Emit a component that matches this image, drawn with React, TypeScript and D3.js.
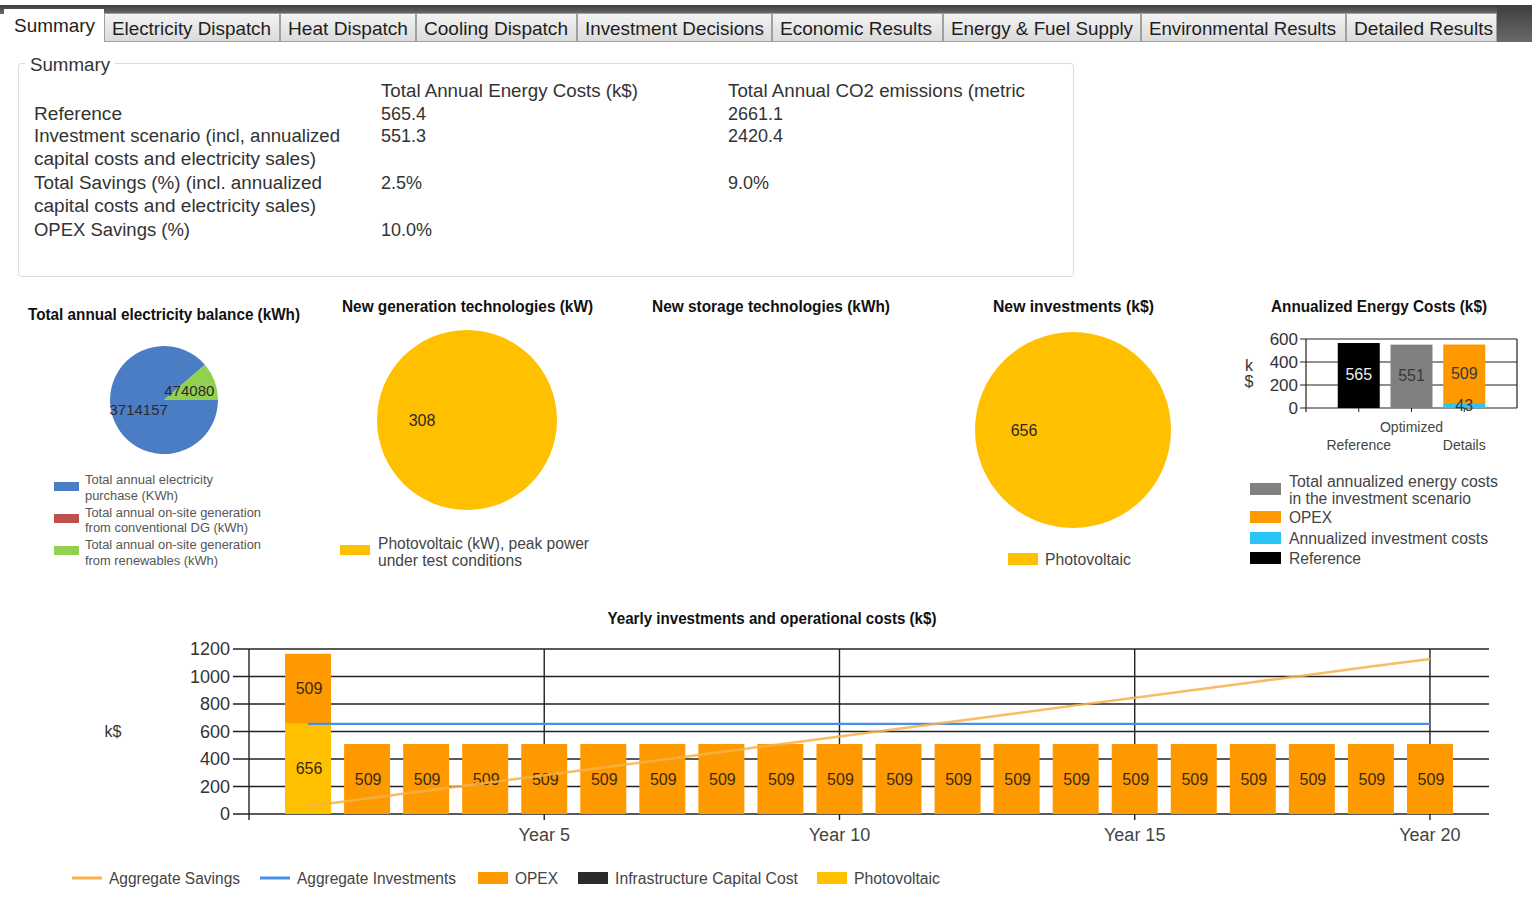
import React from "react";
import * as d3 from "d3";

// ---------- data ----------
const tabs = ["Summary", "Electricity Dispatch", "Heat Dispatch", "Cooling Dispatch", "Investment Decisions", "Economic Results", "Energy & Fuel Supply", "Environmental Results", "Detailed Results"];
const tabEdges = [104, 280, 416, 577, 772, 943, 1141, 1346, 1497];
const tabTextWidths = [81, 159, 120, 144, 179, 152, 182, 187, 139];

const summaryHeaders = ["Total Annual Energy Costs (k$)", "Total Annual CO2 emissions (metric"];
const summaryLabels = [["Reference"], ["Investment scenario (incl, annualized", "capital costs and electricity sales)"], ["Total Savings (%) (incl. annualized", "capital costs and electricity sales)"], ["OPEX Savings (%)"]];
const summaryCosts = ["565.4", "551.3", "2.5%", "10.0%"];
const summaryCO2 = ["2661.1", "2420.4", "9.0%", ""];

const balanceLabels = [["Total annual electricity", "purchase (KWh)"], ["Total annual on-site generation", "from conventional DG (kWh)"], ["Total annual on-site generation", "from renewables (kWh)"]];
const balanceValues = [3714157, 0, 474080];
const balanceColors = ["#4a7dc4", "#c0504d", "#92d050"];

const genLabels = [["Photovoltaic (kW), peak power", "under test conditions"]];
const genValues = [308];
const invLabels = ["Photovoltaic"];
const invValues = [656];

const annualCategories = ["Reference", "Optimized", "Details"];
const annualReference = [565, 0, 0];
const annualTotal = [0, 551, 0];
const annualInvest = [0, 0, 43];
const annualOpex = [0, 0, 509];
const annualTicks = [0, 200, 400, 600];
const annualLegend = [
  { lines: ["Total annualized energy costs", "in the investment scenario"], color: "#808080" },
  { lines: ["OPEX"], color: "#ff9900" },
  { lines: ["Annualized investment costs"], color: "#29c5f6" },
  { lines: ["Reference"], color: "#000000" },
];

const years = [1, 2, 3, 4, 5, 6, 7, 8, 9, 10, 11, 12, 13, 14, 15, 16, 17, 18, 19, 20];
const yearOpex = [509, 509, 509, 509, 509, 509, 509, 509, 509, 509, 509, 509, 509, 509, 509, 509, 509, 509, 509, 509];
const yearPV = [656, 0, 0, 0, 0, 0, 0, 0, 0, 0, 0, 0, 0, 0, 0, 0, 0, 0, 0, 0];
const yearInfra = [0, 0, 0, 0, 0, 0, 0, 0, 0, 0, 0, 0, 0, 0, 0, 0, 0, 0, 0, 0];
const aggSavings = [56, 113, 169, 226, 282, 338, 395, 451, 508, 564, 620, 677, 733, 790, 846, 902, 959, 1015, 1072, 1128];
const aggInvest = [656, 656, 656, 656, 656, 656, 656, 656, 656, 656, 656, 656, 656, 656, 656, 656, 656, 656, 656, 656];
const yearTicks = [0, 200, 400, 600, 800, 1000, 1200];
const yearLabelTicks = [5, 10, 15, 20];
const bottomLegend = [
  { label: "Aggregate Savings", color: "#f7b04a", kind: "line" },
  { label: "Aggregate Investments", color: "#4a8ee8", kind: "line" },
  { label: "OPEX", color: "#ff9900", kind: "rect" },
  { label: "Infrastructure Capital Cost", color: "#2b2b2b", kind: "rect" },
  { label: "Photovoltaic", color: "#ffc000", kind: "rect" },
];

const FONT = "'Liberation Sans', Arial, sans-serif";

type TProps = { x: number; y: number; children: React.ReactNode; size?: number; weight?: string | number; anchor?: string; w?: number; fill?: string };
const T = ({ x, y, children, size = 16, weight = "normal", anchor = "start", w, fill = "#333" }: TProps) => (
  <text x={x} y={y} fontSize={size} fontWeight={weight} textAnchor={anchor as any} dominantBaseline="central" fill={fill} fontFamily={FONT}
    {...(w ? { textLength: w, lengthAdjust: "spacingAndGlyphs" } : {})}>{children}</text>
);

function Pie({ cx, cy, r, values, colors, labelSize }: { cx: number; cy: number; r: number; values: number[]; colors: string[]; labelSize: number }) {
  const arcs = d3.pie<number>().sort(null).startAngle(Math.PI / 2).endAngle(Math.PI / 2 + 2 * Math.PI)(values);
  const arc = d3.arc<d3.PieArcDatum<number>>().innerRadius(0).outerRadius(r);
  return (
    <g transform={`translate(${cx},${cy})`}>
      {arcs.map((a, i) => (a.value > 0 ? <path key={i} d={arc(a) || ""} fill={colors[i]} /> : null))}
      {arcs.map((a, i) => {
        if (a.value <= 0) return null;
        const [lx, ly] = arc.centroid(a);
        return <T key={"l" + i} x={lx} y={ly} size={labelSize} anchor="middle" fill="#2a2a2a">{String(a.value)}</T>;
      })}
    </g>
  );
}

export default function App() {
  // bottom chart scales
  const x = d3.scaleLinear().domain([0, 21]).range([249, 1489]);
  const y = d3.scaleLinear().domain([0, 1200]).range([814, 649]);
  const barW = 46;
  const savingsLine = d3.line<number>().x((_, i) => x(years[i])).y((d) => y(d))(aggSavings) || "";
  const investLine = d3.line<number>().x((_, i) => x(years[i])).y((d) => y(d))(aggInvest) || "";

  // annualized chart scales
  const ax = d3.scaleLinear().domain([0, 4]).range([1306, 1517]);
  const ay = d3.scaleLinear().domain([0, 600]).range([408, 339]);
  const aBarW = 42;

  let tabStart = 4;
  return (
    <div style={{ position: "absolute", left: 0, top: 0, width: 1532, height: 900, background: "#fff" }}>
      <svg width={1532} height={900} style={{ display: "block" }}>
        <defs>
          <linearGradient id="tabg" x1="0" y1="0" x2="0" y2="1">
            <stop offset="0" stopColor="#f4f4f4" />
            <stop offset="1" stopColor="#dadada" />
          </linearGradient>
          <linearGradient id="darkg" x1="0" y1="0" x2="0" y2="1">
            <stop offset="0" stopColor="#3e3e3e" />
            <stop offset="1" stopColor="#6a6a6a" />
          </linearGradient>
        </defs>
        {/* tab strip */}
        <rect x={0} y={5} width={1532} height={9} fill="url(#darkg)" />
        <rect x={1497} y={5} width={35} height={37} fill="url(#darkg)" />
        {tabs.map((t, i) => {
          const x0 = i === 0 ? 4 : tabEdges[i - 1];
          const x1 = tabEdges[i];
          const sel = i === 0;
          tabStart = x1;
          return (
            <g key={t}>
              <rect x={x0 + 0.5} y={sel ? 9.5 : 13.5} width={x1 - x0 - 1} height={sel ? 34 : 28} fill={sel ? "#ffffff" : "url(#tabg)"} stroke={sel ? "#ffffff" : "#a0a0a0"} />
              <T x={x0 + (sel ? 10 : 8)} y={sel ? 25 : 28} size={19} fill="#1e1e1e" w={tabTextWidths[i]}>{t}</T>
            </g>
          );
        })}

        {/* summary group box */}
        <rect x={18.5} y={63.5} width={1055} height={213} rx={3} fill="none" stroke="#dcdcdc" />
        <rect x={25} y={55} width={90} height={16} fill="#fff" />
        <T x={30} y={65} size={18} w={80}>Summary</T>
        <T x={381} y={91} size={18} w={257}>{summaryHeaders[0]}</T>
        <T x={728} y={91} size={18} w={297}>{summaryHeaders[1]}</T>
        {(() => {
          const rowY = [114, 136, 183, 230];
          const labelW = [[88], [306, 282], [288, 282], [156]];
          return summaryLabels.map((lines, i) => (
            <g key={i}>
              {lines.map((ln, j) => (
                <T key={j} x={34} y={rowY[i] + j * 23} size={18} w={labelW[i][j]}>{ln}</T>
              ))}
              <T x={381} y={rowY[i]} size={18}>{summaryCosts[i]}</T>
              {summaryCO2[i] ? <T x={728} y={rowY[i]} size={18}>{summaryCO2[i]}</T> : null}
            </g>
          ));
        })()}

        {/* chart titles */}
        <T x={164} y={314} size={16} weight="bold" anchor="middle" w={272} fill="#111">Total annual electricity balance (kWh)</T>
        <T x={467.5} y={306} size={16} weight="bold" anchor="middle" w={251} fill="#111">New generation technologies (kW)</T>
        <T x={771} y={306} size={16} weight="bold" anchor="middle" w={238} fill="#111">New storage technologies (kWh)</T>
        <T x={1073.5} y={306} size={16} weight="bold" anchor="middle" w={161} fill="#111">New investments (k$)</T>
        <T x={1379} y={306} size={16} weight="bold" anchor="middle" w={216} fill="#111">Annualized Energy Costs (k$)</T>

        {/* pie 1 */}
        <Pie cx={164} cy={400} r={54} values={balanceValues} colors={balanceColors} labelSize={15} />
        {balanceLabels.map((lines, i) => (
          <g key={i}>
            <rect x={54} y={482 + i * 32} width={25} height={9} fill={balanceColors[i]} />
            {lines.map((ln, j) => (
              <T key={j} x={85} y={480 + i * 32.5 + j * 15.5} size={12.5} fill="#555" w={[[128, 93], [176, 163], [176, 133]][i][j]}>{ln}</T>
            ))}
          </g>
        ))}

        {/* pie 2 */}
        <Pie cx={467} cy={420} r={90} values={genValues} colors={["#ffc000"]} labelSize={16} />
        <rect x={340} y={545} width={30} height={10} fill="#ffc000" />
        {genLabels[0].map((ln, j) => (
          <T key={j} x={378} y={543 + j * 17} size={16} fill="#444" w={[211, 144][j]}>{ln}</T>
        ))}

        {/* pie 4 */}
        <Pie cx={1073} cy={430} r={98} values={invValues} colors={["#ffc000"]} labelSize={16} />
        <rect x={1008} y={553} width={30} height={12} fill="#ffc000" />
        <T x={1045} y={559} size={16} fill="#444" w={86}>{invLabels[0]}</T>

        {/* annualized chart */}
        {annualTicks.map((t) => (
          <g key={t}>
            <line x1={1300} x2={1517} y1={ay(t)} y2={ay(t)} stroke="#222" strokeWidth={1.2} />
            <T x={1298} y={ay(t)} size={17} anchor="end" fill="#333">{t}</T>
          </g>
        ))}
        <line x1={1306} x2={1306} y1={339} y2={412} stroke="#222" strokeWidth={1.2} />
        <line x1={1517} x2={1517} y1={339} y2={408} stroke="#222" strokeWidth={1.2} />
        {annualCategories.map((c, i) => (
          <line key={c} x1={ax(i + 1)} x2={ax(i + 1)} y1={408} y2={412} stroke="#222" />
        ))}
        {annualCategories.map((c, i) => {
          const cx = ax(i + 1);
          const segs = [
            { v0: 0, v1: annualReference[i], color: "#000" },
            { v0: 0, v1: annualTotal[i], color: "#808080" },
            { v0: 0, v1: annualInvest[i], color: "#29c5f6" },
            { v0: annualInvest[i], v1: annualInvest[i] + annualOpex[i], color: "#ff9900" },
          ];
          return (
            <g key={c}>
              {segs.filter((s) => s.v1 > s.v0).map((s, k) => (
                <rect key={k} x={cx - aBarW / 2} y={ay(s.v1)} width={aBarW} height={ay(s.v0) - ay(s.v1)} fill={s.color} />
              ))}
            </g>
          );
        })}
        <T x={ax(1)} y={374} size={16} anchor="middle" fill="#eeeeee">{annualReference[0]}</T>
        <T x={ax(2)} y={375} size={16} anchor="middle" fill="#3a3a3a">{annualTotal[1]}</T>
        <T x={ax(3)} y={373} size={16} anchor="middle" fill="#3a3a3a">{annualOpex[2]}</T>
        <T x={ax(3)} y={405} size={16} anchor="middle" fill="#3a3a3a">{annualInvest[2]}</T>
        {annualCategories.map((c, i) => (
          <T key={c} x={ax(i + 1)} y={i === 1 ? 427 : 445} size={14} anchor="middle" fill="#444">{c}</T>
        ))}
        <T x={1249} y={365} size={16} anchor="middle" fill="#333">k</T>
        <T x={1249} y={381} size={16} anchor="middle" fill="#333">$</T>
        {annualLegend.map((l, i) => {
          const ys = [481, 517, 538, 558][i];
          return (
            <g key={i}>
              <rect x={1250} y={(i === 0 ? 489 : ys) - 6} width={31} height={12} fill={l.color} />
              {l.lines.map((ln, j) => (
                <T key={j} x={1289} y={ys + j * 17} size={16} fill="#444" w={[[209, 182], [43], [199], [72]][i][j]}>{ln}</T>
              ))}
            </g>
          );
        })}

        {/* bottom chart */}
        <T x={772} y={618} size={16} weight="bold" anchor="middle" w={329} fill="#111">Yearly investments and operational costs (k$)</T>
        <T x={113} y={731} size={16} anchor="middle" fill="#333">k$</T>
        {yearTicks.map((t) => (
          <g key={t}>
            <line x1={233} x2={1489} y1={y(t)} y2={y(t)} stroke="#222" strokeWidth={1.4} />
            <T x={230} y={y(t)} size={18} anchor="end" fill="#333">{t}</T>
          </g>
        ))}
        <line x1={249} x2={249} y1={649} y2={820} stroke="#222" strokeWidth={1.4} />
        {yearLabelTicks.map((t) => (
          <g key={t}>
            <line x1={x(t)} x2={x(t)} y1={649} y2={820} stroke="#222" strokeWidth={1.4} />
            <T x={x(t)} y={835} size={18} anchor="middle" fill="#444">{`Year ${t}`}</T>
          </g>
        ))}
        {years.map((yr, i) => {
          const cx = x(yr);
          const segs = [
            { v0: 0, v1: yearPV[i], color: "#ffc000" },
            { v0: yearPV[i], v1: yearPV[i] + yearInfra[i], color: "#2b2b2b" },
            { v0: yearPV[i] + yearInfra[i], v1: yearPV[i] + yearInfra[i] + yearOpex[i], color: "#ff9900" },
          ];
          return (
            <g key={yr}>
              {segs.filter((s) => s.v1 > s.v0).map((s, k) => (
                <rect key={k} x={cx - barW / 2} y={y(s.v1)} width={barW} height={y(s.v0) - y(s.v1)} fill={s.color} />
              ))}
            </g>
          );
        })}
        {years.map((yr, i) => {
          const cx = x(yr);
          const base = yearPV[i] + yearInfra[i];
          return (
            <g key={"l" + yr}>
              {yearPV[i] > 0 ? <T x={cx + 1} y={y(yearPV[i] / 2)} size={16} anchor="middle" fill="#3a2a10">{yearPV[i]}</T> : null}
              <T x={cx + 1} y={y(base + yearOpex[i] / 2)} size={16} anchor="middle" fill="#3a2a10">{yearOpex[i]}</T>
            </g>
          );
        })}
        <path d={investLine} fill="none" stroke="#4a8ee8" strokeWidth={2.2} />
        <path d={savingsLine} fill="none" stroke="#f7b04a" strokeWidth={2.5} strokeOpacity={0.85} />

        {/* bottom legend */}
        {(() => {
          const xs = [72, 260, 478, 578, 817];
          const tw = [131, 159, 43, 183, 86];
          return bottomLegend.map((l, i) => (
            <g key={l.label}>
              {l.kind === "line" ? (
                <line x1={xs[i]} x2={xs[i] + 30} y1={878} y2={878} stroke={l.color} strokeWidth={3} />
              ) : (
                <rect x={xs[i]} y={872} width={30} height={12} fill={l.color} />
              )}
              <T x={xs[i] + 37} y={878} size={16} fill="#444" w={tw[i]}>{l.label}</T>
            </g>
          ));
        })()}
      </svg>
    </div>
  );
}
